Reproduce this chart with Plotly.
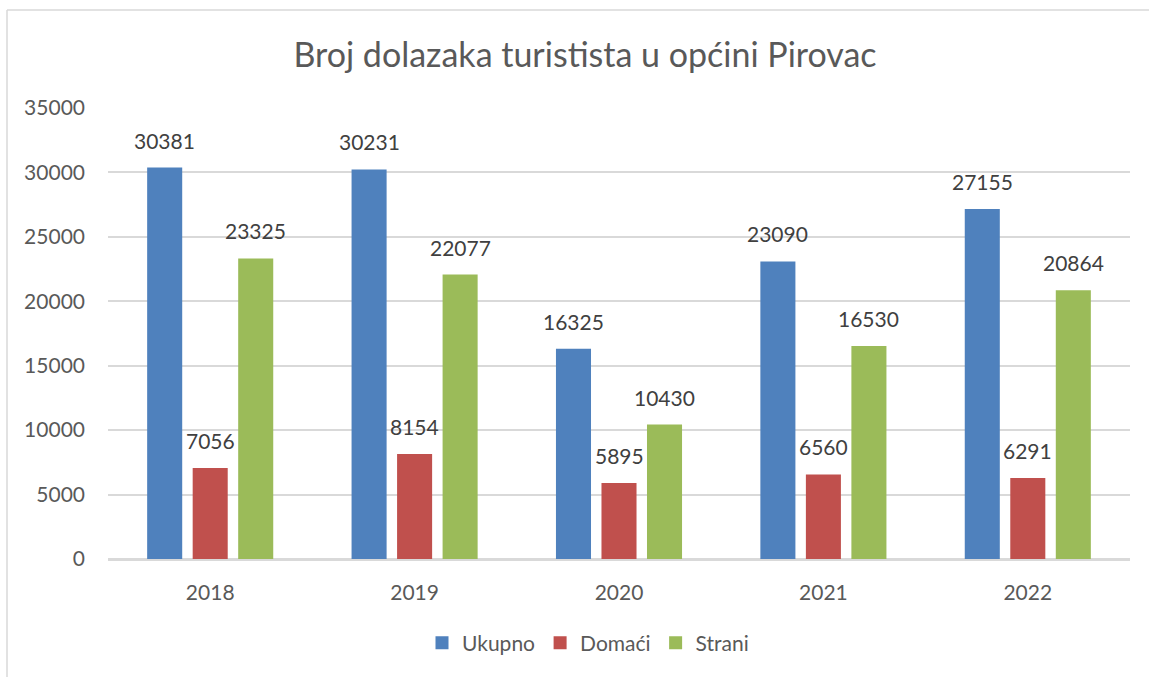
import plotly.graph_objects as go

years = ["2018", "2019", "2020", "2021", "2022"]
ukupno = [30381, 30231, 16325, 23090, 27155]
domaci = [7056, 8154, 5895, 6560, 6291]
strani = [23325, 22077, 10430, 16530, 20864]
series_names = ["Ukupno", "Domaći", "Strani"]
colors = ["#4F81BD", "#C0504D", "#9BBB59"]
y_ticks = [0, 5000, 10000, 15000, 20000, 25000, 30000, 35000]
title_text = "Broj dolazaka turististа u općini Pirovac".replace("а", "a")

W, H = 1149, 677
L, R, T, B = 108, 19, 108, 118
pw, ph = W - L - R, H - T - B

FONT = "Lato, 'Open Sans', sans-serif"

fig = go.Figure()
all_series = [ukupno, domaci, strani]
for name, vals, col in zip(series_names, all_series, colors):
    fig.add_trace(go.Bar(
        x=years, y=vals, name=name, showlegend=False,
        marker=dict(color=col, line=dict(width=0)),
    ))
# legend entries with larger square swatches
for name, col in zip(series_names, colors):
    fig.add_trace(go.Scatter(
        x=[None], y=[None], mode="markers", name=name,
        marker=dict(symbol="square", size=13, color=col),
    ))

# data labels (category axis: annotation x is the category index)
cat_w = pw / len(years)
slot = cat_w * (1 - 0.332) / 3
for i, vals in enumerate(all_series):
    for k, v in enumerate(vals):
        fig.add_annotation(
            x=k, y=v, text=str(v), showarrow=False,
            xshift=(i - 1) * slot, yshift=13, yanchor="bottom",
            font=dict(family=FONT, size=21, color="#404040"),
        )

# chart border (left & top)
x0 = (7 - L) / pw
ytop = 1 + (T - 10) / ph
ybot = -(B + 5) / ph
xr = (W + 5 - L) / pw
fig.add_shape(type="line", xref="paper", yref="paper", x0=x0, x1=x0, y0=ybot, y1=ytop,
              line=dict(color="#D9D9D9", width=1.5))
fig.add_shape(type="line", xref="paper", yref="paper", x0=x0, x1=xr, y0=ytop, y1=ytop,
              line=dict(color="#D9D9D9", width=1.5))

fig.update_layout(
    width=W, height=H,
    margin=dict(l=L, r=R, t=T, b=B),
    paper_bgcolor="white", plot_bgcolor="white",
    barmode="group", bargap=0.332, bargroupgap=0.23,
    font=dict(family=FONT, size=21, color="#595959"),
    title=dict(text=title_text, x=585 / W, xanchor="center", xref="container",
               y=1 - 55 / H, yanchor="middle",
               font=dict(family=FONT, size=34, color="#595959")),
    legend=dict(orientation="h", x=(588 - L) / pw, xanchor="center",
                y=-(643 - (T + ph)) / ph, yanchor="middle",
                font=dict(family=FONT, size=21, color="#595959"),
                itemwidth=30, traceorder="normal"),
    showlegend=True,
)
fig.update_yaxes(range=[0, 35000], tickvals=y_ticks, ticktext=[str(t) for t in y_ticks],
                 showgrid=True, gridcolor="#D9D9D9", gridwidth=1.5,
                 zeroline=True, zerolinecolor="#D9D9D9", zerolinewidth=1.5,
                 showline=False, ticks="", ticklabelstandoff=22,
                 tickfont=dict(family=FONT, size=21, color="#595959"))
fig.update_xaxes(type="category", range=[-0.5, len(years) - 0.5],
                 showline=True, linecolor="#D9D9D9", linewidth=1.5, ticks="",
                 ticklabelstandoff=14, showgrid=False,
                 tickfont=dict(family=FONT, size=21, color="#595959"))

fig.write_html("out.html", config={"displayModeBar": False},
               post_script="document.body.style.margin='0';")
